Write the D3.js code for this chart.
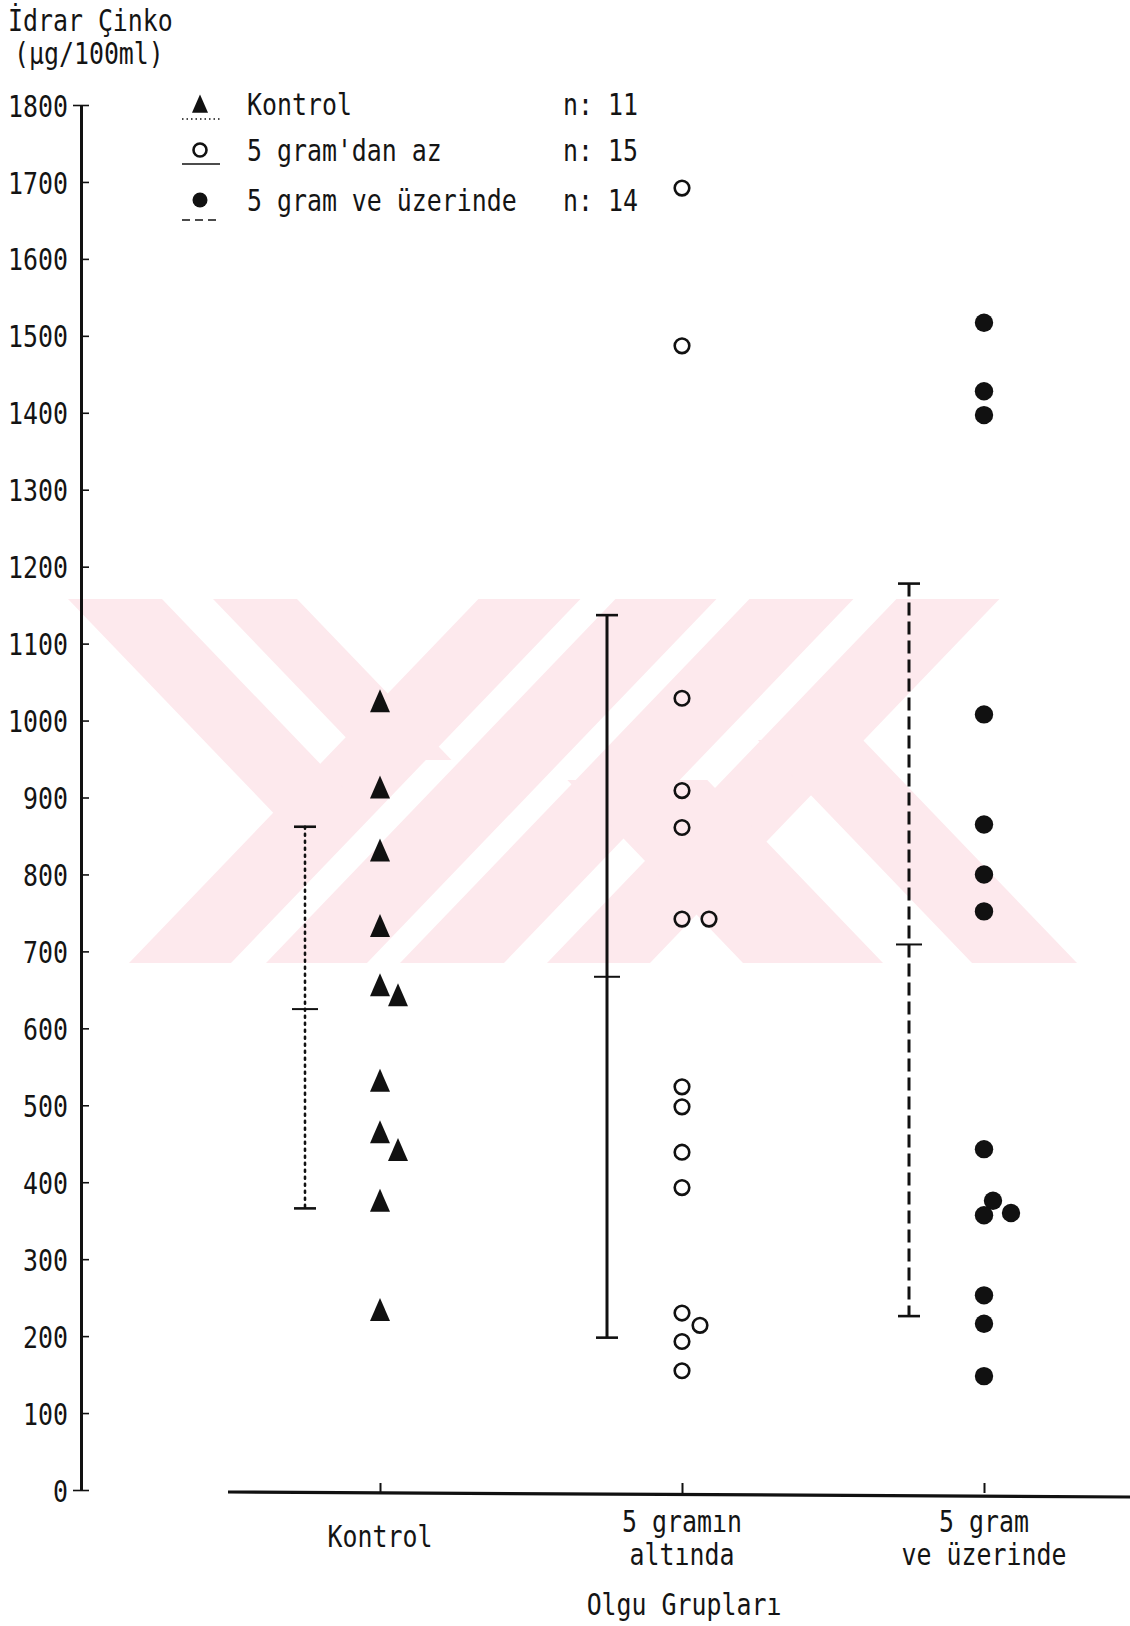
<!DOCTYPE html>
<html>
<head>
<meta charset="utf-8">
<script src="https://cdn.jsdelivr.net/npm/d3@7"></script>
<style>
body { margin: 0; background: #fff; }
svg text { font-family: "DejaVu Sans Mono", monospace; font-size: 30px; fill: #141414; }
</style>
</head>
<body>
<svg id="chart" width="1130" height="1626"></svg>
<script>
// groups and their bottom labels
var groups = ["Kontrol", "5 gramın altında", "5 gram ve üzerinde"];
var groupLabels = [["Kontrol"], ["5 gramın", "altında"], ["5 gram", "ve üzerinde"]];
var legendLabels = ["Kontrol", "5 gram'dan az", "5 gram ve üzerinde"];
var yTicks = d3.range(0, 1801, 100);

// urine zinc values (µg/100ml)
var kontrol = [1025, 913, 831, 733, 656, 643, 532, 465, 442, 376, 234];
var kontrolLane = [0, 0, 0, 0, 0, 2, 0, 0, 2, 0, 0];
var alti = [1692, 1487, 1029, 909, 861, 742, 742, 524, 498, 439, 393, 230, 214, 193, 155];
var altiLane = [0, 0, 0, 0, 0, 0, 3, 0, 0, 0, 0, 0, 2, 0, 0];
var ustu = [1517, 1428, 1397, 1008, 865, 800, 752, 443, 376, 357, 360, 253, 216, 148];
var ustuLane = [0, 0, 0, 0, 0, 0, 0, 0, 1, 0, 3, 0, 0, 0];

// mean and range bars
var barLow = [366, 198, 226];
var barMean = [625, 667, 709];
var barHigh = [862, 1137, 1178];

var svg = d3.select("#chart");
var y = d3.scaleLinear().domain([0, 1800]).range([1490, 105]);
var x = d3.scalePoint().domain(groups).range([380, 984]);
var lane = 9, sx = 0.83;

function txt(sel, px, py, s, anchor) {
  return sel.append("text")
    .attr("transform", "translate(" + px + "," + py + ") scale(" + sx + ",1)")
    .attr("text-anchor", anchor || "start")
    .text(s);
}

// faint watermark in the background
var wm = svg.append("g").attr("fill", "#fde9ed");
var T = 599, B = 963, k = 0.96;
[[129, 102], [266, 101], [400, 104], [547, 103]].forEach(function (s) {
  var d = (B - T) * k;
  wm.append("path").attr("d", "M" + s[0] + "," + B + "L" + (s[0] + s[1]) + "," + B +
    "L" + (s[0] + s[1] + d) + "," + T + "L" + (s[0] + d) + "," + T + "Z");
});
[[68, 94, T, 815], [213, 84, T, 760]].forEach(function (s) {
  var d = (s[3] - s[2]) * k;
  wm.append("path").attr("d", "M" + s[0] + "," + s[2] + "L" + (s[0] + s[1]) + "," + s[2] +
    "L" + (s[0] + s[1] + d) + "," + s[3] + "L" + (s[0] + d) + "," + s[3] + "Z");
});
[[743, 140, 780], [972, 105, 740]].forEach(function (s) {
  var d = (B - s[2]) * k;
  wm.append("path").attr("d", "M" + s[0] + "," + B + "L" + (s[0] + s[1]) + "," + B +
    "L" + (s[0] + s[1] - d) + "," + s[2] + "L" + (s[0] - d) + "," + s[2] + "Z");
});

// y axis
var yAxis = d3.axisLeft(y).tickValues(yTicks).tickFormat(d3.format("d"))
  .tickSize(-8).tickSizeOuter(0).tickPadding(13);
var gy = svg.append("g").attr("transform", "translate(81,0)").call(yAxis);
gy.select(".domain").attr("stroke", "#111").attr("stroke-width", 3);
gy.selectAll(".tick line").attr("stroke", "#111").attr("stroke-width", 1.6);
gy.selectAll(".tick text")
  .attr("x", -13 / sx).attr("dy", "0.37em")
  .attr("transform", "scale(" + sx + ",1)")
  .attr("font-family", null).attr("font-size", null).attr("fill", "#141414");
gy.selectAll(".tick").filter(function (d) { return d === 0 || d === 1800; })
  .append("line").attr("x1", -8).attr("x2", 0).attr("stroke", "#111").attr("stroke-width", 1.6);

txt(svg, 8, 31, "İdrar Çinko");
txt(svg, 14, 64, "(µg/100ml)");

// x axis
var x0 = y(0) + 3;
var xAxis = d3.axisBottom(x).tickSize(-10).tickSizeOuter(0).tickFormat("");
var gx = svg.append("g").attr("transform", "translate(0," + x0 + ")").call(xAxis);
gx.select(".domain").remove();
gx.selectAll(".tick line").attr("stroke", "#111").attr("stroke-width", 2);
gx.append("line").attr("x1", 228).attr("x2", 1130).attr("y1", -1).attr("y2", 4)
  .attr("stroke", "#111").attr("stroke-width", 3.2);

groupLabels.forEach(function (lines, i) {
  var cx = x(groups[i]);
  if (lines.length === 1) txt(svg, cx, 1547, lines[0], "middle");
  else lines.forEach(function (l, j) { txt(svg, cx, 1532 + j * 33, l, "middle"); });
});
txt(svg, 684, 1615, "Olgu Grupları", "middle");

// markers
function triangle(sel, px, py, s) {
  s = s || 1;
  sel.append("path")
    .attr("d", "M" + px + "," + (py - 12 * s) + "L" + (px + 10 * s) + "," + (py + 11 * s) +
      "L" + (px - 10 * s) + "," + (py + 11 * s) + "Z")
    .attr("fill", "#111");
}
function ring(sel, px, py, r) {
  sel.append("circle").attr("cx", px).attr("cy", py).attr("r", r || 7.3)
    .attr("fill", "none").attr("stroke", "#111").attr("stroke-width", 2.6);
}
function dot(sel, px, py, r) {
  sel.append("circle").attr("cx", px).attr("cy", py).attr("r", r || 9.2).attr("fill", "#111");
}

var series = [
  { vals: kontrol, lanes: kontrolLane, draw: triangle, dash: "2,5", cap: "round" },
  { vals: alti, lanes: altiLane, draw: ring, dash: null, cap: "butt" },
  { vals: ustu, lanes: ustuLane, draw: dot, dash: "13,6", cap: "butt" }
];

var pts = svg.append("g");
series.forEach(function (s, i) {
  var cx = x(groups[i]);
  s.vals.forEach(function (v, j) { s.draw(pts, cx + s.lanes[j] * lane, y(v)); });
});

// error bars
var bars = svg.append("g").attr("stroke", "#111");
series.forEach(function (s, i) {
  var bx = x(groups[i]) - 75;
  bars.append("line").attr("x1", bx).attr("x2", bx)
    .attr("y1", y(barHigh[i])).attr("y2", y(barLow[i]))
    .attr("stroke-width", i === 0 ? 2.6 : 3)
    .attr("stroke-dasharray", s.dash).attr("stroke-linecap", s.cap);
  [barHigh[i], barLow[i]].forEach(function (v) {
    bars.append("line").attr("x1", bx - 11).attr("x2", bx + 11)
      .attr("y1", y(v)).attr("y2", y(v)).attr("stroke-width", 2.6);
  });
  bars.append("line").attr("x1", bx - 13).attr("x2", bx + 13)
    .attr("y1", y(barMean[i])).attr("y2", y(barMean[i])).attr("stroke-width", 2);
});

// legend
var lg = svg.append("g");
var rowsY = [104, 150, 200];
var lineY = [119, 164, 220];
series.forEach(function (s, i) {
  if (i === 0) triangle(lg, 200, rowsY[i], 0.8);
  else if (i === 1) ring(lg, 200, rowsY[i], 6.5);
  else dot(lg, 200, rowsY[i], 7.5);
  lg.append("line").attr("x1", 182).attr("x2", 220).attr("y1", lineY[i]).attr("y2", lineY[i])
    .attr("stroke", "#111").attr("stroke-width", 1.6)
    .attr("stroke-dasharray", i === 0 ? "1.5,3" : (i === 2 ? "8,5" : null));
  txt(lg, 247, rowsY[i] + 11, legendLabels[i]);
  txt(lg, 563, rowsY[i] + 11, "n: " + s.vals.length);
});
</script>
</body>
</html>
